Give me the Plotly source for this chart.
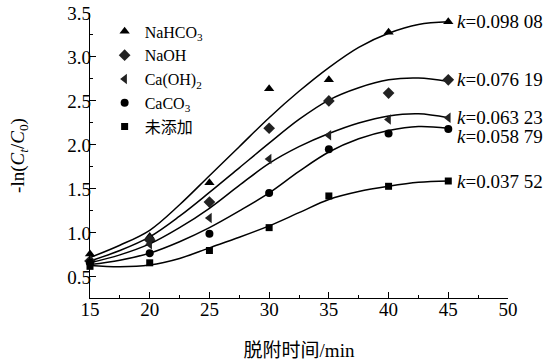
import plotly.graph_objects as go

# ---- data ----
time_min = [15, 20, 25, 30, 35, 40, 45]
series_names = ["NaHCO<sub>3</sub>", "NaOH", "Ca(OH)<sub>2</sub>", "CaCO<sub>3</sub>", "未添加"]
nahco3 = [0.76, 0.96, 1.57, 2.64, 2.74, 3.28, 3.40]
naoh = [0.68, 0.92, 1.35, 2.19, 2.50, 2.59, 2.74]
caoh2 = [0.65, 0.87, 1.17, 1.84, 2.11, 2.29, 2.31]
caco3 = [0.66, 0.77, 0.99, 1.455, 1.95, 2.13, 2.18]
none_added = [0.62, 0.66, 0.80, 1.06, 1.42, 1.53, 1.59]

# fitted curves
fit_time = [15, 17.5, 20, 22.5, 25, 27.5, 30, 32.5, 35, 37.5, 40, 42.5, 45]
fit_nahco3 = [0.72, 0.86, 1.03, 1.32, 1.65, 1.98, 2.31, 2.61, 2.88, 3.11, 3.27, 3.37, 3.40]
fit_naoh = [0.68, 0.80, 0.955, 1.19, 1.46, 1.74, 2.02, 2.29, 2.51, 2.65, 2.74, 2.76, 2.72]
fit_caoh2 = [0.66, 0.75, 0.875, 1.06, 1.28, 1.54, 1.79, 1.98, 2.13, 2.25, 2.33, 2.355, 2.31]
fit_caco3 = [0.64, 0.69, 0.77, 0.90, 1.06, 1.25, 1.455, 1.70, 1.92, 2.07, 2.165, 2.21, 2.19]
fit_none = [0.63, 0.615, 0.635, 0.71, 0.83, 0.95, 1.08, 1.23, 1.38, 1.47, 1.53, 1.575, 1.59]

k_labels = ["0.098 08", "0.076 19", "0.063 23", "0.058 79", "0.037 52"]

x_ticks = [15, 20, 25, 30, 35, 40, 45, 50]
y_ticks = [0.5, 1.0, 1.5, 2.0, 2.5, 3.0, 3.5]

points = [nahco3, naoh, caoh2, caco3, none_added]
fits = [fit_nahco3, fit_naoh, fit_caoh2, fit_caco3, fit_none]
symbols = ["triangle-up", "diamond", "triangle-left", "circle", "square"]
sizes = [9, 9, 9, 8, 7]
colors = ["#000000", "#222222", "#222222", "#000000", "#000000"]
label_shift = [0, 0, 0, -7, 0]

SERIF = "Times New Roman"
TICKF = "Liberation Serif"
CJK = "Liberation Serif, Noto Sans CJK SC"

fig = go.Figure()
for name, ys, fy, sym, sz, col in zip(series_names, points, fits, symbols, sizes, colors):
    fig.add_trace(go.Scatter(
        x=fit_time, y=fy, mode="lines", line=dict(color="black", width=1.5, shape="spline", smoothing=1.0),
        showlegend=False, hoverinfo="skip"))
    fig.add_trace(go.Scatter(
        x=time_min, y=ys, mode="markers", name=name,
        marker=dict(symbol=sym, size=sz, color=col, line=dict(width=0)),
        cliponaxis=False))

for ys, lab, sh in zip(points, k_labels, label_shift):
    fig.add_annotation(
        x=time_min[-1], y=ys[-1], xref="x", yref="y",
        text=f"<i>k</i>={lab}", showarrow=False, xanchor="left", yanchor="middle",
        xshift=7, yshift=sh, font=dict(family=SERIF, size=19, color="black"))

axis_common = dict(
    showline=True, linecolor="black", linewidth=1.2, mirror=False,
    ticks="inside", ticklen=6, tickwidth=1.2, tickcolor="black",
    showgrid=False, zeroline=False, automargin=False,
    ticklabeloverflow="allow", ticklabelstandoff=-6,
    tickfont=dict(family=TICKF, size=19, color="black"),
)

fig.update_layout(
    width=552, height=363,
    margin=dict(l=90, r=44, t=13, b=65),
    paper_bgcolor="white", plot_bgcolor="white",
    xaxis=dict(
        range=[15, 50], tickvals=x_ticks, ticktext=[str(v) for v in x_ticks],
        minor=dict(ticks="inside", ticklen=3, tickcolor="black", dtick=2.5, tick0=15),
        title=dict(text="脱附时间/min", font=dict(family=CJK, size=19, color="black"), standoff=24),
        **axis_common),
    yaxis=dict(
        range=[0.26, 3.5], tickvals=y_ticks, ticktext=[f"{v:.1f}" for v in y_ticks],
        minor=dict(ticks="inside", ticklen=3, tickcolor="black", dtick=0.25, tick0=0.5),
        title=dict(text="-ln(<i>C</i><sub><i>t</i></sub>/<i>C</i><sub>0</sub>)",
                   font=dict(family=SERIF, size=19, color="black"), standoff=37),
        **axis_common),
    legend=dict(
        x=0.035, y=0.995, xanchor="left", yanchor="top",
        bgcolor="rgba(0,0,0,0)", borderwidth=0,
        font=dict(family=CJK, size=16, color="black"),
        itemwidth=30, tracegroupgap=0),
    showlegend=True,
)

# remove the default page margin so the figure sits at the window's top-left corner
fig.write_html("out.html", config={"displayModeBar": False},
               post_script="document.body.style.margin='0';")
